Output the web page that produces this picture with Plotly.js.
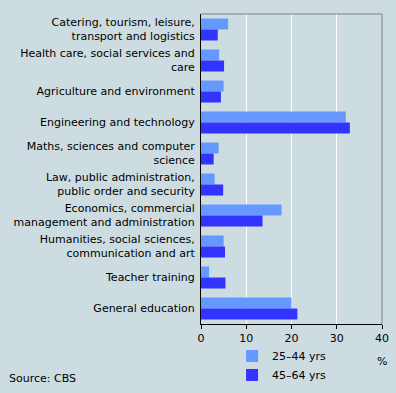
<!DOCTYPE html>
<html>
<head>
<meta charset="utf-8">
<script src="https://cdn.plot.ly/plotly-3.0.1.min.js"></script>
<style>html,body{margin:0;padding:0;background:#cddce1;}#chart{width:396px;height:393px;}</style>
</head>
<body>
<div id="chart"></div>
<script>
const categories = [
  "Catering, tourism, leisure,<br>transport and logistics",
  "Health care, social services and<br>care",
  "Agriculture and environment",
  "Engineering and technology",
  "Maths, sciences and computer<br>science",
  "Law, public administration,<br>public order and security",
  "Economics, commercial<br>management and administration",
  "Humanities, social sciences,<br>communication and art",
  "Teacher training",
  "General education"
];
const age25_44 = [6.0, 4.0, 5.0, 32.0, 3.9, 3.0, 17.8, 5.0, 1.8, 20.0];
const age45_64 = [3.7, 5.1, 4.4, 32.9, 2.8, 4.9, 13.6, 5.3, 5.4, 21.3];
const seriesNames = ["25–44 yrs", "45–64 yrs"];
const xTicks = [0, 10, 20, 30, 40];

const font = {family: "DejaVu Sans, Verdana, sans-serif", size: 11, color: "#000000"};

const traces = [
  {type: "bar", orientation: "h", name: seriesNames[0], y: categories, x: age25_44,
   marker: {color: "#6699ff", line: {width: 0}}, hoverinfo: "x"},
  {type: "bar", orientation: "h", name: seriesNames[1], y: categories, x: age45_64,
   marker: {color: "#3333ff", line: {width: 0}}, hoverinfo: "x"}
];

const layout = {
  width: 396, height: 393,
  margin: {l: 201, r: 14, t: 14, b: 69, autoexpand: false},
  paper_bgcolor: "#cddce1",
  plot_bgcolor: "#cddce1",
  font: font,
  barmode: "group",
  bargap: 0.29,
  bargroupgap: 0,
  showlegend: true,
  legend: {xref: "container", yref: "container", x: 0.586, y: 0.131,
           xanchor: "left", yanchor: "top", orientation: "v",
           bgcolor: "rgba(0,0,0,0)", borderwidth: 0, font: font, traceorder: "normal"},
  xaxis: {range: [0, 40], tickvals: xTicks, ticktext: xTicks.map(String),
          showgrid: true, gridcolor: "#ffffff", gridwidth: 1, zeroline: false,
          showline: true, linecolor: "#000000", linewidth: 1, automargin: false,
          ticks: "outside", ticklen: 4, tickcolor: "#000000", tickfont: font, fixedrange: true},
  yaxis: {type: "category", autorange: "reversed", showgrid: false, zeroline: false,
          showline: true, linecolor: "#000000", linewidth: 1, ticks: "", automargin: false,
          ticklabelstandoff: 3, tickfont: font, fixedrange: true},
  shapes: [
    {type: "line", xref: "paper", yref: "paper", x0: 0, x1: 1, y0: 1, y1: 1,
     line: {color: "#808080", width: 1}, layer: "above"},
    {type: "line", xref: "paper", yref: "paper", x0: 1, x1: 1, y0: 0, y1: 1,
     line: {color: "#808080", width: 1}, layer: "above"}
  ],
  annotations: [
    {text: "%", xref: "paper", yref: "paper", x: 1, y: -37/310, xanchor: "center", yanchor: "middle",
     showarrow: false, font: font},
    {text: "Source: CBS", xref: "paper", yref: "paper", x: -194/181, y: -54/310,
     xanchor: "left", yanchor: "middle", showarrow: false, font: font}
  ]
};

Plotly.newPlot("chart", traces, layout, {displayModeBar: false, staticPlot: true});
</script>
</body>
</html>
